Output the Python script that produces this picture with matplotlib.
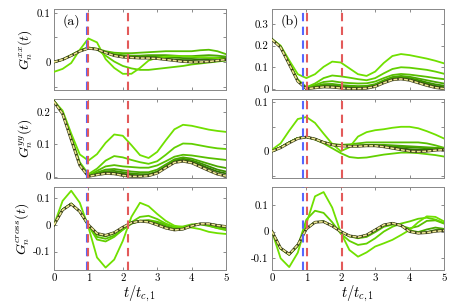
import matplotlib
matplotlib.use("Agg")
import matplotlib.pyplot as plt

plt.rcParams['font.family'] = 'serif'
plt.rcParams['font.serif'] = ['cmr10']
plt.rcParams['mathtext.fontset'] = 'cm'
plt.rcParams['axes.unicode_minus'] = False

t = [0, .25, .5, .75, 1, 1.25, 1.5, 1.75, 2, 2.25, 2.5, 2.75, 3, 3.25, 3.5, 3.75, 4, 4.25, 4.5, 4.75, 5]

# ---- panel (a) G^xx
a_xx_A = [-.020, -.014, -.002, .025, .048, .040, .006, -.012, -.024, -.024, -.012, .003, .009, .011, .012, .012, .011, .010, .009, .008, .006]
a_xx_B = [0, .005, .014, .024, .030, .026, .013, .001, -.008, -.013, -.016, -.016, -.014, -.012, -.010, -.008, -.005, -.003, -.001, .001, .003]
a_xx_C = [0, .005, .014, .023, .029, .027, .022, .019, .018, .018, .019, .020, .021, .022, .022, .022, .022, .024, .025, .022, .016]
a_xx_D = [0, .005, .014, .023, .029, .026, .020, .016, .014, .013, .013, .014, .014, .014, .013, .012, .012, .013, .014, .013, .011]
a_xx_E = [0, .005, .013, .022, .028, .026, .020, .015, .012, .011, .011, .011, .011, .010, .009, .008, .008, .009, .009, .009, .008]
a_xx_F = [0, .005, .013, .022, .028, .026, .019, .014, .011, .010, .009, .009, .008, .007, .005, .004, .004, .005, .006, .007, .007]
a_xx_ref = [0, .005, .013, .022, .028, .026, .019, .013, .010, .009, .008, .008, .007, .005, .003, .001, .000, .000, .001, .003, .005]

# ---- panel (a) G^yy
a_yy_A = [.235, .205, .134, .069, .050, .070, .105, .131, .127, .098, .067, .058, .077, .113, .147, .161, .158, .152, .146, .142, .139]
a_yy_B = [.235, .200, .125, .045, .008, .025, .050, .064, .060, .052, .045, .040, .048, .068, .090, .103, .102, .097, .092, .088, .086]
a_yy_C = [.235, .198, .120, .040, .004, .018, .032, .036, .032, .030, .028, .028, .035, .048, .062, .068, .066, .062, .058, .055, .052]
a_yy_D = [.235, .197, .118, .038, .002, .013, .022, .024, .020, .016, .014, .014, .022, .038, .054, .060, .056, .048, .040, .032, .027]
a_yy_E = [.234, .196, .117, .037, .001, .010, .017, .018, .014, .010, .008, .008, .016, .033, .050, .056, .051, .042, .032, .022, .016]
a_yy_F = [.234, .196, .116, .036, .001, .008, .013, .013, .009, .006, .004, .005, .013, .030, .047, .052, .047, .037, .026, .016, .010]
a_yy_ref = [.233, .195, .115, .035, .001, .006, .010, .009, .004, .001, .001, .003, .011, .028, .044, .048, .043, .031, .019, .008, .002]

# ---- panel (a) G^cross
a_cr_A = [0, .090, .128, .083, -.008, -.122, -.160, -.130, -.060, .030, .083, .070, .041, .015, -.003, -.008, -.010, -.016, -.026, -.031, -.034]
a_cr_B = [0, .058, .080, .050, -.002, -.055, -.062, -.045, -.018, .010, .030, .034, .022, .005, -.008, -.006, .002, .004, -.002, -.012, -.020]
a_cr_C = [0, .058, .080, .050, -.002, -.045, -.052, -.040, -.018, .004, .016, .018, .012, .002, -.008, -.008, -.002, .002, -.004, -.012, -.016]
a_cr_D = [0, .057, .079, .050, -.001, -.036, -.043, -.032, -.012, .006, .014, .014, .008, -.004, -.014, -.012, -.002, .004, .000, -.008, -.012]
a_cr_E = [0, .057, .079, .050, -.001, -.034, -.040, -.030, -.010, .008, .015, .013, .004, -.008, -.017, -.014, -.003, .004, .002, -.004, -.008]
a_cr_F = [0, .056, .078, .050, .000, -.033, -.039, -.029, -.009, .009, .015, .012, .002, -.010, -.018, -.016, -.004, .004, .004, -.001, -.006]
a_cr_ref = [0, .056, .078, .050, .000, -.032, -.039, -.029, -.009, .008, .014, .011, .000, -.012, -.019, -.016, -.004, .004, .004, -.002, -.006]

# ---- panel (b) G^xx
b_xx_A = [.230, .200, .132, .068, .050, .068, .102, .126, .122, .095, .068, .060, .080, .120, .152, .161, .156, .148, .140, .130, .118]
b_xx_B = [.230, .196, .122, .044, .008, .025, .050, .062, .058, .052, .045, .040, .050, .072, .092, .100, .098, .093, .088, .080, .070]
b_xx_C = [.230, .195, .118, .040, .004, .018, .032, .036, .030, .027, .025, .026, .034, .050, .064, .069, .066, .061, .056, .050, .045]
b_xx_D = [.230, .194, .117, .038, .002, .013, .022, .023, .018, .015, .013, .014, .022, .040, .055, .060, .056, .048, .040, .032, .025]
b_xx_E = [.229, .194, .116, .037, .001, .010, .016, .017, .012, .009, .008, .009, .017, .035, .050, .055, .050, .041, .030, .021, .015]
b_xx_F = [.229, .193, .115, .036, .001, .008, .012, .012, .008, .005, .004, .006, .014, .031, .046, .051, .045, .035, .024, .014, .008]
b_xx_ref = [.228, .192, .114, .035, .001, .005, .009, .008, .004, .001, .001, .003, .011, .028, .042, .046, .040, .028, .016, .006, .001]

# ---- panel (b) G^yy
b_yy_A = [.003, .016, .042, .066, .070, .058, .036, .015, .000, .008, .030, .039, .043, .045, .048, .050, .050, .047, .041, .034, .026]
b_yy_B = [0, .008, .018, .027, .029, .024, .016, .006, -.004, -.012, -.014, -.013, -.010, -.007, -.005, -.003, -.003, -.004, -.006, -.008, -.011]
b_yy_C = [0, .008, .018, .027, .029, .025, .019, .015, .013, .014, .016, .018, .018, .018, .018, .018, .018, .018, .016, .012, .007]
b_yy_D = [0, .008, .018, .027, .029, .025, .018, .013, .011, .011, .012, .013, .013, .013, .012, .011, .010, .009, .008, .007, .006]
b_yy_E = [0, .008, .018, .027, .029, .025, .018, .013, .011, .011, .011, .012, .012, .011, .010, .009, .008, .007, .006, .005, .005]
b_yy_F = [0, .008, .018, .027, .029, .025, .018, .013, .011, .011, .011, .011, .011, .010, .008, .006, .004, .003, .003, .004, .004]
b_yy_ref = [0, .007, .017, .026, .029, .025, .018, .013, .011, .010, .010, .011, .011, .009, .006, .003, .000, -.001, .000, .002, .003]

# ---- panel (b) G^cross
b_cr_A = [0, -.100, -.133, -.079, .030, .132, .148, .090, -.004, -.069, -.094, -.078, -.056, -.044, -.031, -.013, .006, .035, .057, .055, .038]
b_cr_B = [0, -.065, -.087, -.055, .045, .078, .070, .035, -.008, -.035, -.050, -.045, -.025, .000, .018, .030, .038, .048, .052, .045, .032]
b_cr_C = [0, -.063, -.086, -.050, .012, .036, .038, .022, .000, -.018, -.025, -.020, -.002, .018, .026, .022, .012, .020, .040, .042, .030]
b_cr_D = [0, -.062, -.086, -.050, .010, .035, .037, .022, .000, -.016, -.022, -.014, .004, .022, .030, .024, .005, -.002, .008, .015, .010]
b_cr_E = [0, -.062, -.085, -.050, .010, .035, .037, .022, .000, -.016, -.021, -.013, .006, .024, .031, .024, .002, -.006, -.002, .006, .006]
b_cr_F = [0, -.062, -.085, -.050, .010, .035, .037, .021, .000, -.016, -.021, -.013, .006, .025, .031, .023, .001, -.006, -.004, .003, .005]
b_cr_ref = [0, -.062, -.085, -.050, .010, .035, .037, .021, .000, -.016, -.021, -.013, .006, .025, .031, .023, .000, -.006, -.004, .001, .004]

# vertical marker times
a_blue, a_red1, a_red2 = 0.97, 1.0, 2.16
b_blue, b_red1, b_red2 = 0.90, 1.01, 2.03

xticks = [0, 1, 2, 3, 4, 5]
xticklabels = ['0', '1', '2', '3', '4', '5']

greens = ['#70e000', '#62d000', '#58bf00', '#4aa800', '#3c8f00', '#2f7400']

fig = plt.figure(figsize=(4.64, 3.07), dpi=100)
W, H = 464, 307
cols = [54, 272]
cw = 172
rows = [(9, 90), (99, 178), (187, 270)]

panels = [
    [
        dict(series=[a_xx_A, a_xx_B, a_xx_C, a_xx_D, a_xx_E, a_xx_F], ref=a_xx_ref,
             ylim=(-0.057, 0.108), yt=[-0.05, 0, 0.05, 0.1], ytl=['', '0', '', '0.1'],
             ylabel=r'$G_n^{xx}(t)$', tag='(a)'),
        dict(series=[a_yy_A, a_yy_B, a_yy_C, a_yy_D, a_yy_E, a_yy_F], ref=a_yy_ref,
             ylim=(-0.004, 0.241), yt=[0, 0.1, 0.2], ytl=['0', '0.1', '0.2'],
             ylabel=r'$G_n^{yy}(t)$', tag=None),
        dict(series=[a_cr_A, a_cr_B, a_cr_C, a_cr_D, a_cr_E, a_cr_F], ref=a_cr_ref,
             ylim=(-0.169, 0.142), yt=[-0.1, 0, 0.1], ytl=['-0.1', '0', '0.1'],
             ylabel=r'$G_n^{cross}(t)$', tag=None),
    ],
    [
        dict(series=[b_xx_A, b_xx_B, b_xx_C, b_xx_D, b_xx_E, b_xx_F], ref=b_xx_ref,
             ylim=(-0.005, 0.369), yt=[0, 0.1, 0.2, 0.3], ytl=['0', '0.1', '0.2', '0.3'],
             ylabel=None, tag='(b)'),
        dict(series=[b_yy_A, b_yy_B, b_yy_C, b_yy_D, b_yy_E, b_yy_F], ref=b_yy_ref,
             ylim=(-0.055, 0.107), yt=[-0.05, 0, 0.05, 0.1], ytl=['', '0', '', '0.1'],
             ylabel=None, tag=None),
        dict(series=[b_cr_A, b_cr_B, b_cr_C, b_cr_D, b_cr_E, b_cr_F], ref=b_cr_ref,
             ylim=(-0.144, 0.167), yt=[-0.1, 0, 0.1], ytl=['-0.1', '0', '0.1'],
             ylabel=None, tag=None),
    ],
]
vlines = [(a_blue, a_red1, a_red2), (b_blue, b_red1, b_red2)]

for ci, col in enumerate(panels):
    for ri, p in enumerate(col):
        y0, y1 = rows[ri]
        ax = fig.add_axes([cols[ci] / W, 1 - y1 / H, cw / W, (y1 - y0) / H])
        bl, r1, r2 = vlines[ci]
        for k in range(5, -1, -1):
            ax.plot(t, p['series'][k], color=greens[k], lw=1.3, zorder=3 + (5 - k) * 0.1,
                    solid_joinstyle='round')
        ax.plot(t, p['ref'], color='#3a3d1a', lw=2.0, zorder=4, solid_joinstyle='round')
        ax.plot(t, p['ref'], color='#efe894', lw=1.1, dashes=(2.5, 1.0), zorder=4.1)
        ax.axvline(bl, color='#5566ff', lw=1.5, dashes=(4, 2.6), zorder=5)
        ax.axvline(r1, color='#e35a5a', lw=1.5, dashes=(4, 2.6), zorder=5)
        ax.axvline(r2, color='#e35a5a', lw=1.5, dashes=(4, 2.6), zorder=5)
        ax.set_xlim(0, 5)
        ax.set_ylim(*p['ylim'])
        ax.set_xticks(xticks)
        if ri == 2:
            ax.set_xticklabels(xticklabels)
            ax.set_xlabel(r'$t/t_{c,1}$', fontsize=10.5, labelpad=1)
        else:
            ax.set_xticklabels([])
        ax.set_yticks(p['yt'])
        ax.set_yticklabels(p['ytl'])
        ax.tick_params(direction='in', length=2.5, width=0.6, color='#777777',
                       labelsize=7.8, top=True, right=True, pad=2.5)
        for s in ax.spines.values():
            s.set_color('#888888')
            s.set_linewidth(0.7)
        if p['ylabel']:
            ax.set_ylabel(p['ylabel'], fontsize=10, labelpad=1)
        if p['tag']:
            ax.text(0.05, 0.93, p['tag'], transform=ax.transAxes, fontsize=10,
                    va='top', ha='left')

fig.savefig('out.png', dpi=100)
